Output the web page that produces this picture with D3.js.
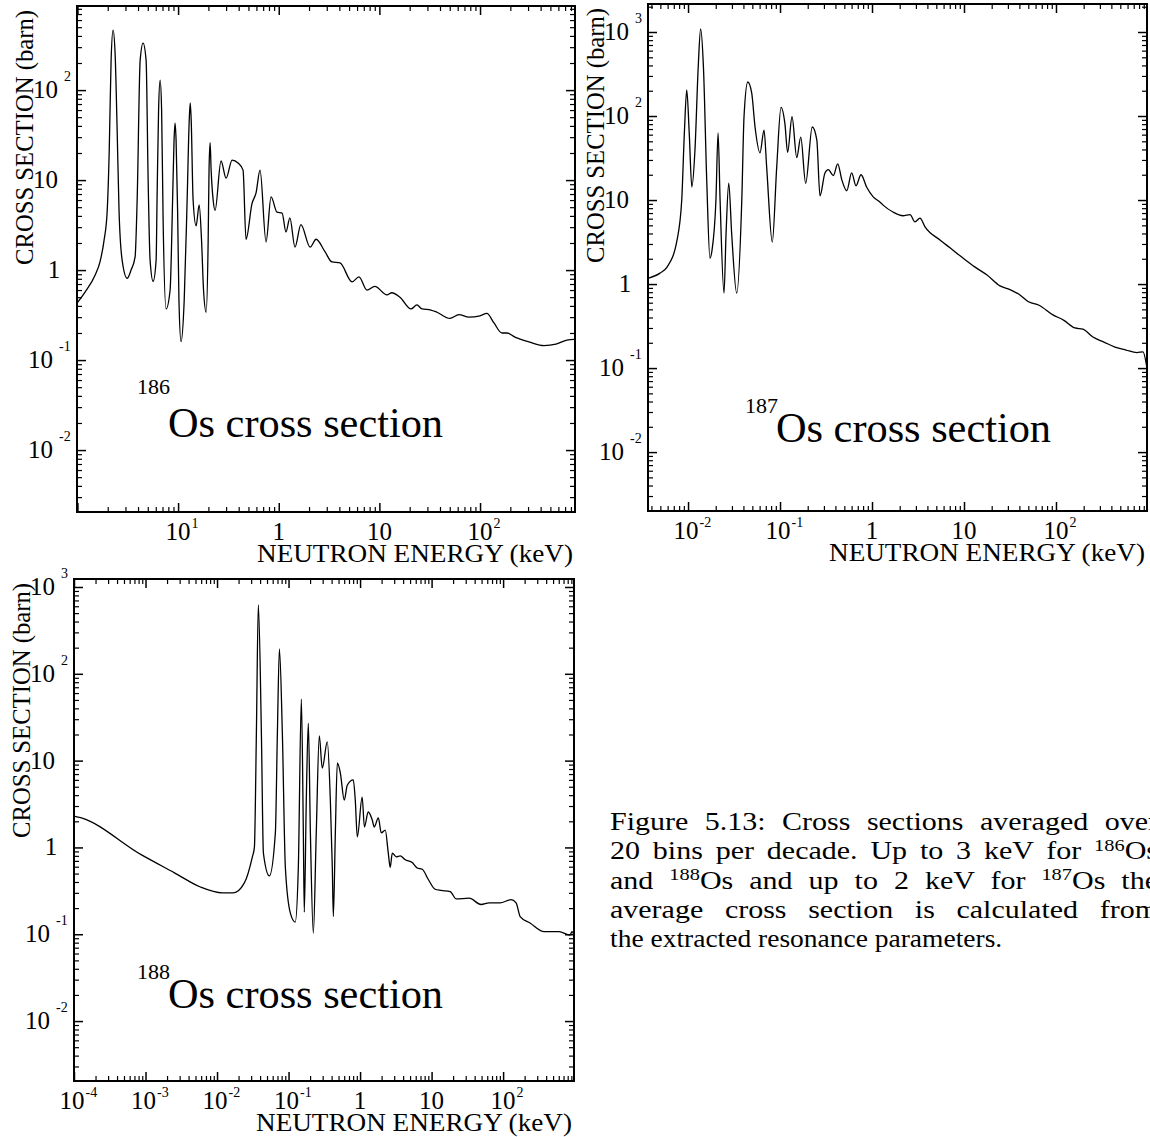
<html>
<head>
	<title>Os cross sections</title>
	<script type="text/javascript" src="https://cdn.jsdelivr.net/npm/d3@7"></script>
	<style>
		body { margin: 0; background: #fff; }
		text { font-family: "Liberation Serif", "Times New Roman", serif; fill: #000; }
	</style>
</head>
<body>
<script type="text/javascript">
// 186Os: averaged cross section (keV, barn)
const energy186 = [0.0099, 0.0119, 0.0150, 0.0168, 0.0184, 0.0197, 0.0207, 0.0216, 0.0226, 0.0237, 0.0248, 0.0259, 0.0278,
	0.0312, 0.0341, 0.0374, 0.0392, 0.042, 0.0449, 0.0481, 0.0504, 0.0527, 0.0565, 0.0605, 0.0618, 0.064, 0.0663, 0.0686, 0.071,
	0.076, 0.0833, 0.0882, 0.0912, 0.0933, 0.0955, 0.0989, 0.102, 0.107, 0.115, 0.123, 0.129, 0.132, 0.135, 0.141, 0.151, 0.162,
	0.171, 0.179, 0.190, 0.199, 0.203, 0.208, 0.213, 0.223, 0.233, 0.267, 0.300, 0.344, 0.394, 0.442, 0.473, 0.543, 0.595, 0.652,
	0.748, 0.839, 0.962, 1.08, 1.18, 1.29, 1.45, 1.66, 2.05, 2.35, 2.88, 3.38, 4.06, 5.35, 6.27, 7.53, 9.0, 11.9, 13.3, 16.0,
	20.6, 23.6, 26.5, 32.5, 37.3, 50.2, 61.7, 77.6, 99.8, 117, 137, 165, 185, 222, 313, 432, 568, 730, 878];
const sigma186 = [0.43, 0.57, 0.88, 1.25, 2.15, 4.3, 21.5, 215, 464, 245, 36, 4.6, 1.29,
	0.81, 1.0, 1.4, 6.0, 215, 333, 215, 10, 1.29, 0.75, 1.29, 6, 60, 129, 60, 3.6,
	0.37, 0.6, 6, 28, 43, 28, 4.6, 0.46, 0.16, 0.46, 6, 46, 72, 46, 6, 3.1, 5.3,
	2.15, 0.6, 0.34, 2.15, 12.9, 26, 12.9, 6, 4.6, 16.3, 10.5, 16.7, 15.5, 12.9, 2.2, 5.5, 7.2, 12.9,
	2.05, 6.5, 4.4, 4.3, 2.65, 3.8, 1.8, 3.2, 1.8, 2.2, 1.6, 1.23, 1.2, 0.74, 0.84, 0.6, 0.66, 0.53, 0.56, 0.5,
	0.37, 0.41, 0.37, 0.36, 0.34, 0.29, 0.32, 0.30, 0.31, 0.33, 0.26, 0.20, 0.20, 0.18, 0.158, 0.145, 0.15, 0.167, 0.17];

// 187Os
const energy187 = [0.00367, 0.00496, 0.00591, 0.00759, 0.00854, 0.00912, 0.00968, 0.0103, 0.0110, 0.0119, 0.0129, 0.0137,
	0.0147, 0.0160, 0.0173, 0.0182, 0.0201, 0.0212, 0.0223, 0.0246, 0.0259, 0.0277, 0.0298, 0.0338, 0.0384, 0.0406, 0.0446,
	0.0492, 0.0535, 0.0606, 0.067, 0.0716, 0.0824, 0.092, 0.1025, 0.113, 0.121, 0.135, 0.152, 0.168, 0.190, 0.224, 0.251,
	0.272, 0.308, 0.335, 0.380, 0.424, 0.469, 0.531, 0.601, 0.670, 0.759, 0.876, 1.03, 1.20, 1.32, 1.69, 2.17, 2.59, 2.93,
	3.32, 3.77, 5.48, 7.05, 9.75, 13.2, 17.8, 24.6, 31.6, 40.6, 49.7, 65.4, 92.7, 122, 161, 196, 252, 332, 438, 576, 759,
	883, 975];
const sigma187 = [1.17, 1.35, 1.59, 3.34, 10, 63, 204, 63, 14.3, 40, 383, 1086,
	383, 15.8, 2.04, 2.5, 10, 63, 10, 0.78, 4.0, 15.9, 4.0, 0.78, 10, 98, 254,
	188, 74, 36.5, 68, 24.5, 3.16, 24.5, 127, 81, 37, 98, 32, 56, 15.8, 74, 52,
	11.2, 21, 23, 19.6, 27, 17.5, 12.9, 21, 14.8, 20, 14.2, 10.9, 9.6, 8.7, 7.2, 6.5, 6.7, 5.5,
	6.1, 4.8, 3.34, 2.7, 2.04, 1.59, 1.28, 0.95, 0.86, 0.74, 0.62, 0.56, 0.43, 0.37, 0.30, 0.29, 0.234, 0.204, 0.178, 0.164, 0.153,
	0.156, 0.10];

// 188Os
const energy188 = [0.0001, 0.000124, 0.00088, 0.00254, 0.00586, 0.0119, 0.0169, 0.0241, 0.0312, 0.0333, 0.0355, 0.0378,
	0.0417, 0.0445, 0.0539, 0.0654, 0.0698, 0.0745, 0.0819, 0.0902, 0.106, 0.124, 0.137, 0.151, 0.161, 0.166, 0.177, 0.189,
	0.202, 0.222, 0.244, 0.269, 0.296, 0.348, 0.384, 0.409, 0.423, 0.451, 0.481, 0.530, 0.601, 0.662, 0.803, 0.857, 0.915,
	1.07, 1.15, 1.30, 1.48, 1.58, 1.80, 1.98, 2.25, 2.48, 2.64, 2.82, 3.21, 3.64, 4.28, 5.36, 6.3, 7.4, 8.97, 11.2, 13.6,
	18.2, 22.1, 33.5, 49.3, 63.7, 90.8, 129, 152, 173, 238, 374, 606, 862, 920, 980];
const sigma188 = [2.3, 2.2, 0.82, 0.51, 0.35, 0.30, 0.30, 0.39, 0.78, 1.0, 20.8, 620,
	20.8, 0.86, 0.47, 1.47, 20.8, 193, 20.8, 0.59, 0.175, 0.138, 0.59, 51, 1.47, 0.18, 3.5, 27,
	1.47, 0.103, 1.47, 19.2, 8.2, 16.4, 3.5, 0.59, 0.16, 1.47, 9.4, 7.2, 3.5, 5.2, 6.0, 3.5, 1.32,
	3.8, 1.72, 2.56, 2.07, 1.72, 2.19, 1.47, 1.58, 0.86, 0.59, 0.86, 0.78, 0.8, 0.72, 0.67, 0.58, 0.56, 0.43, 0.33, 0.32,
	0.31, 0.255, 0.26, 0.22, 0.23, 0.23, 0.25, 0.23, 0.16, 0.135, 0.107, 0.107, 0.098, 0.107, 0.098];

// tick labels: base text + superscript
const xTicks186 = [0.1, 1, 10, 100];
const xBase186 = ["10", "1", "10", "10"];
const xExp186 = ["1", "", "", "2"];
const yTicks186 = [100, 10, 1, 0.1, 0.01];
const yBase186 = ["10", "10", "1", "10", "10"];
const yExp186 = ["2", "", "", "-1", "-2"];

const xTicks187 = [0.01, 0.1, 1, 10, 100];
const xBase187 = ["10", "10", "1", "10", "10"];
const xExp187 = ["-2", "-1", "", "", "2"];
const yTicks187 = [1000, 100, 10, 1, 0.1, 0.01];
const yBase187 = ["10", "10", "10", "1", "10", "10"];
const yExp187 = ["3", "2", "", "", "-1", "-2"];

const xTicks188 = [0.0001, 0.001, 0.01, 0.1, 1, 10, 100];
const xBase188 = ["10", "10", "10", "10", "1", "10", "10"];
const xExp188 = ["-4", "-3", "-2", "-1", "", "", "2"];
const yTicks188 = [1000, 100, 10, 1, 0.1, 0.01];
const yBase188 = ["10", "10", "10", "1", "10", "10"];
const yExp188 = ["3", "2", "", "", "-1", "-2"];

const captionLines = [
	"Figure 5.13: Cross sections averaged over",
	"20 bins per decade. Up to 3 keV for ^186Os",
	"and ^188Os and up to 2 keV for ^187Os the",
	"average cross section is calculated from",
	"the extracted resonance parameters."
];

const w = 1150;
const h = 1137;

const svg = d3.select("body")
	.append("svg")
	.attr("width", w)
	.attr("height", h);

svg.append("rect").attr("width", w).attr("height", h).attr("fill", "#fff");

// all decade / minor values inside a log domain
function logTicks(domain, major) {
	let out = [];
	const lo = Math.floor(Math.log10(domain[0]));
	const hi = Math.ceil(Math.log10(domain[1]));
	for (let d = lo; d <= hi; d++) {
		for (let k = 1; k <= 9; k++) {
			const v = k * Math.pow(10, d);
			if (v >= domain[0] * 0.999 && v <= domain[1] * 1.001 && (k === 1) === major) {
				out.push(v);
			}
		}
	}
	return out;
}

function drawPanel(p) {
	const x = d3.scaleLog().domain(p.xDomain).range([p.left, p.right]);
	const y = d3.scaleLog().domain(p.yDomain).range([p.bottom, p.top]);
	const g = svg.append("g");

	const xMaj = logTicks(p.xDomain, true), xMin = logTicks(p.xDomain, false);
	const yMaj = logTicks(p.yDomain, true), yMin = logTicks(p.yDomain, false);

	// inward ticks on all four sides
	const axes = [
		[d3.axisBottom(x), "translate(0," + p.bottom + ")", xMaj, xMin],
		[d3.axisTop(x), "translate(0," + p.top + ")", xMaj, xMin],
		[d3.axisLeft(y), "translate(" + p.left + ",0)", yMaj, yMin],
		[d3.axisRight(y), "translate(" + p.right + ",0)", yMaj, yMin]
	];
	for (let a of axes) {
		for (let pass = 0; pass < 2; pass++) {
			const ax = a[0].tickValues(pass === 0 ? a[2] : a[3])
				.tickSize(pass === 0 ? -9 : -5)
				.tickSizeOuter(0)
				.tickFormat("");
			const ga = g.append("g").attr("transform", a[1]).call(ax);
			ga.select(".domain").remove();
			ga.selectAll("line").attr("stroke", "#000").attr("stroke-width", pass === 0 ? 1.5 : 1.2);
		}
	}

	g.append("rect")
		.attr("x", p.left).attr("y", p.top)
		.attr("width", p.right - p.left).attr("height", p.bottom - p.top)
		.attr("fill", "none").attr("stroke", "#000").attr("stroke-width", 2);

	// curve
	const clipId = "clip" + p.name;
	svg.append("clipPath").attr("id", clipId)
		.append("rect")
		.attr("x", p.left).attr("y", p.top)
		.attr("width", p.right - p.left).attr("height", p.bottom - p.top);

	const pts = p.energy.map(function (e, i) { return [e, p.sigma[i]]; });
	const line = d3.line()
		.x(function (d) { return x(d[0]); })
		.y(function (d) { return y(d[1]); })
		.curve(d3.curveMonotoneX);
	g.append("path")
		.datum(pts)
		.attr("clip-path", "url(#" + clipId + ")")
		.attr("d", line)
		.attr("fill", "none")
		.attr("stroke", "#000")
		.attr("stroke-width", 1.3);

	// x tick labels
	p.xTicks.forEach(function (t, i) {
		const neg = p.xExp[i].startsWith("-");
		const cx = x(t) - (neg ? 2 : 0);
		g.append("text").attr("x", cx).attr("y", p.bottom + 28)
			.attr("text-anchor", "middle").attr("font-size", 25).text(p.xBase[i]);
		if (p.xExp[i] !== "") {
			g.append("text").attr("x", cx + 13.5).attr("y", p.bottom + 16)
				.attr("font-size", 14).text(p.xExp[i]);
		}
	});

	// y tick labels
	p.yTicks.forEach(function (t, i) {
		const ty = y(t);
		const e = p.yExp[i];
		if (p.yBase[i] === "1") {
			g.append("text").attr("x", p.left - 23).attr("y", ty + 8)
				.attr("text-anchor", "middle").attr("font-size", 25).text("1");
			return;
		}
		const neg = e.startsWith("-");
		g.append("text").attr("x", p.left - (neg ? 49 : 44)).attr("y", ty + 8)
			.attr("font-size", 25).text(p.yBase[i]);
		if (e !== "") {
			g.append("text").attr("x", p.left - (neg ? 18 : 13)).attr("y", ty - 9)
				.attr("font-size", 14).text(e);
		}
	});

	// axis titles
	g.append("text")
		.attr("x", p.right - 2).attr("y", p.bottom + 50)
		.attr("text-anchor", "end").attr("font-size", 26)
		.attr("textLength", 316).attr("lengthAdjust", "spacingAndGlyphs")
		.text("NEUTRON ENERGY (keV)");
	g.append("text")
		.attr("transform", "translate(" + p.yTitleX + "," + (p.top + 259) + ") rotate(-90)")
		.attr("font-size", 25)
		.attr("textLength", 255).attr("lengthAdjust", "spacingAndGlyphs")
		.text("CROSS SECTION (barn)");

	// isotope label
	g.append("text").attr("x", p.labelX).attr("y", p.labelY - p.supRise)
		.attr("font-size", 22).text(p.isotope);
	g.append("text").attr("x", p.labelX + 31).attr("y", p.labelY)
		.attr("font-size", 43).attr("textLength", 275).attr("lengthAdjust", "spacingAndGlyphs")
		.text("Os cross section");
}

drawPanel({
	name: "186", isotope: "186",
	left: 77, right: 575, top: 6, bottom: 512,
	xDomain: [0.0099, 878], yDomain: [0.00205, 860],
	energy: energy186, sigma: sigma186,
	xTicks: xTicks186, xBase: xBase186, xExp: xExp186,
	yTicks: yTicks186, yBase: yBase186, yExp: yExp186,
	yTitleX: 33, labelX: 137, labelY: 437, supRise: 43
});

drawPanel({
	name: "187", isotope: "187",
	left: 648, right: 1147, top: 4, bottom: 511,
	xDomain: [0.00367, 976], yDomain: [0.00199, 2154],
	energy: energy187, sigma: sigma187,
	xTicks: xTicks187, xBase: xBase187, xExp: xExp187,
	yTicks: yTicks187, yBase: yBase187, yExp: yExp187,
	yTitleX: 604, labelX: 745, labelY: 442, supRise: 29
});

drawPanel({
	name: "188", isotope: "188",
	left: 74, right: 574, top: 579, bottom: 1081,
	xDomain: [0.0001, 980], yDomain: [0.00204, 1236],
	energy: energy188, sigma: sigma188,
	xTicks: xTicks188, xBase: xBase188, xExp: xExp188,
	yTicks: yTicks188, yBase: yBase188, yExp: yExp188,
	yTitleX: 30, labelX: 137, labelY: 1008, supRise: 29
});

// caption: glyphs widened, lines justified with word spacing (last one natural)
captionLines.forEach(function (s, i) {
	const last = i === captionLines.length - 1;
	const sc = last ? 1.1 : 1.2;
	const t = svg.append("g")
		.attr("transform", "translate(610," + (830 + i * 29.3) + ") scale(" + sc + ",1)")
		.append("text")
		.attr("x", 0).attr("y", 0)
		.attr("font-size", 25);
	const parts = s.split(/\^(\d+)/);
	parts.forEach(function (part, j) {
		if (part === "") return;
		if (j % 2 === 1) {
			t.append("tspan").attr("font-size", 17).attr("baseline-shift", "45%").text(part);
		} else {
			t.append("tspan").text(part);
		}
	});
	if (!last) {
		const natural = t.node().getComputedTextLength();
		const gaps = s.split(" ").length - 1;
		t.attr("word-spacing", Math.max(0, (548 / sc - natural) / gaps));
	}
});
</script>
</body>
</html>
